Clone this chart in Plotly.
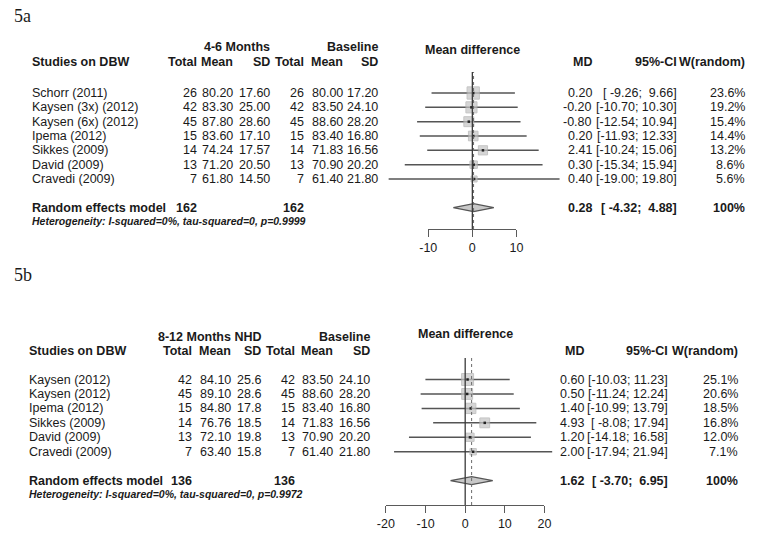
import math
import plotly.graph_objects as go

W, H = 760, 534
FONT = "Liberation Sans, Arial, Helvetica, sans-serif"
FS = 12.5
TXT = "#1a1a1a"

# ---------------- Data: 5a (4-6 months vs baseline) ----------------
a_studies = ["Schorr (2011)", "Kaysen (3x) (2012)", "Kaysen (6x) (2012)", "Ipema (2012)",
             "Sikkes (2009)", "David (2009)", "Cravedi (2009)"]
a_n_e = [26, 42, 45, 15, 14, 13, 7]
a_mean_e = [80.20, 83.30, 87.80, 83.60, 74.24, 71.20, 61.80]
a_sd_e = [17.60, 25.00, 28.60, 17.10, 17.57, 20.50, 14.50]
a_n_c = [26, 42, 45, 15, 14, 13, 7]
a_mean_c = [80.00, 83.50, 88.60, 83.40, 71.83, 70.90, 61.40]
a_sd_c = [17.20, 24.10, 28.20, 16.80, 16.56, 20.20, 21.80]
a_md = [0.20, -0.20, -0.80, 0.20, 2.41, 0.30, 0.40]
a_lo = [-9.26, -10.70, -12.54, -11.93, -10.24, -15.34, -19.00]
a_hi = [9.66, 10.30, 10.94, 12.33, 15.06, 15.94, 19.80]
a_w = [23.6, 19.2, 15.4, 14.4, 13.2, 8.6, 5.6]
a_pooled = [0.28, -4.32, 4.88]
a_totals = [162, 162]
a_het = "Heterogeneity: I-squared=0%, tau-squared=0, p=0.9999"
a_ticks = [-10, 0, 10]

# ---------------- Data: 5b (8-12 months NHD vs baseline) ----------------
b_studies = ["Kaysen (2012)", "Kaysen (2012)", "Ipema (2012)", "Sikkes (2009)",
             "David (2009)", "Cravedi (2009)"]
b_n_e = [42, 45, 15, 14, 13, 7]
b_mean_e = [84.10, 89.10, 84.80, 76.76, 72.10, 63.40]
b_sd_e = [25.6, 28.6, 17.8, 18.5, 19.8, 15.8]
b_n_c = [42, 45, 15, 14, 13, 7]
b_mean_c = [83.50, 88.60, 83.40, 71.83, 70.90, 61.40]
b_sd_c = [24.10, 28.20, 16.80, 16.56, 20.20, 21.80]
b_md = [0.60, 0.50, 1.40, 4.93, 1.20, 2.00]
b_lo = [-10.03, -11.24, -10.99, -8.08, -14.18, -17.94]
b_hi = [11.23, 12.24, 13.79, 17.94, 16.58, 21.94]
b_w = [25.1, 20.6, 18.5, 16.8, 12.0, 7.1]
b_pooled = [1.62, -3.70, 6.95]
b_totals = [136, 136]
b_het = "Heterogeneity: I-squared=0%, tau-squared=0, p=0.9972"
b_ticks = [-20, -10, 0, 10, 20]


def px_x(p):
    return p / W


def px_y(p):
    return 1 - p / H


fig = go.Figure()
annotations = []
shapes = []


def ann(text, x, y, xanchor="left", xref="paper", yref="paper", size=FS, family=FONT):
    annotations.append(dict(text=text, x=x, y=y, xref=xref, yref=yref, xanchor=xanchor,
                            yanchor="middle", showarrow=False, borderpad=0,
                            font=dict(family=family, size=size, color=TXT)))


def panel(k, label, head_exp, studies, n_e, mean_e, sd_e, sd_e_fmt, n_c, mean_c, sd_c,
          md, lo, hi, w, pooled, totals, het, ticks, L):
    xa = "x" if k == 1 else "x%d" % k
    ya = "y" if k == 1 else "y%d" % k
    xt = "x%d" % (k + 2)
    n = len(studies)
    rows = list(range(n))
    s_idx = n + 1
    # axis geometry
    x_lo = (L["data_px"][0] - L["zero_px"]) / L["ppu"]
    x_hi = (L["data_px"][1] - L["zero_px"]) / L["ppu"]
    y_top = (L["top"] - L["row0"]) / L["step"]
    y_bot = (L["axis_y"] - L["row0"]) / L["step"]
    lay = {}
    lay["xaxis" if k == 1 else "xaxis%d" % k] = dict(
        domain=[px_x(L["data_px"][0]), px_x(L["data_px"][1])], range=[x_lo, x_hi],
        visible=False, anchor=ya)
    lay["yaxis" if k == 1 else "yaxis%d" % k] = dict(
        domain=[px_y(L["axis_y"]), px_y(L["top"])], range=[y_bot, y_top],
        visible=False, anchor=xa)
    t0, t1 = ticks[0], ticks[-1]
    lay["xaxis%d" % (k + 2)] = dict(
        domain=[px_x(L["zero_px"] + L["ppu"] * t0), px_x(L["zero_px"] + L["ppu"] * t1)],
        range=[t0, t1], tickvals=ticks, ticktext=[str(t) for t in ticks],
        showline=True, linecolor="#5a5a5a", linewidth=1.2, ticks="outside", ticklen=7,
        tickwidth=1.2, tickcolor="#5a5a5a", showgrid=False, zeroline=False,
        anchor="free", position=px_y(L["axis_y"]),
        tickfont=dict(family=FONT, size=FS, color=TXT))
    fig.update_layout(**lay)
    fig.add_trace(go.Scatter(x=[t0, t1], y=[y_top, y_top], xaxis=xt, yaxis=ya, mode="markers",
                             marker=dict(opacity=0), hoverinfo="skip", showlegend=False))

    # reference lines
    shapes.append(dict(type="line", xref=xa, yref=ya + " domain", x0=0, x1=0, y0=0, y1=1,
                       line=dict(color="#3a3a3a", width=1.3)))
    shapes.append(dict(type="line", xref=xa, yref=ya + " domain", x0=pooled[0], x1=pooled[0],
                       y0=0, y1=1, line=dict(color="#6a6a6a", width=1, dash="dot")))

    # CI lines
    cx, cy = [], []
    for i in rows:
        cx += [lo[i], hi[i], None]
        cy += [i, i, None]
    fig.add_trace(go.Scatter(x=cx, y=cy, xaxis=xa, yaxis=ya, mode="lines",
                             line=dict(color="#555555", width=1.5), hoverinfo="skip",
                             showlegend=False))
    # weight squares
    wmax = max(w)
    sizes = [L["box"] * math.sqrt(v / wmax) for v in w]
    fig.add_trace(go.Scatter(x=md, y=rows, xaxis=xa, yaxis=ya, mode="markers",
                             marker=dict(symbol="square", size=sizes, color="#c4c4c4",
                                         line=dict(color="#adadad", width=1)),
                             cliponaxis=False, hoverinfo="skip", showlegend=False))
    fig.add_trace(go.Scatter(x=md, y=rows, xaxis=xa, yaxis=ya, mode="markers",
                             marker=dict(symbol="square", size=2.5, color="#222222"),
                             cliponaxis=False, hoverinfo="skip", showlegend=False))
    # diamond
    hh = L["dia"] / L["step"]
    fig.add_trace(go.Scatter(x=[pooled[1], pooled[0], pooled[2], pooled[0], pooled[1]],
                             y=[s_idx, s_idx - hh, s_idx, s_idx + hh, s_idx],
                             xaxis=xa, yaxis=ya, mode="lines", fill="toself",
                             fillcolor="#c8c8c8", line=dict(color="#555555", width=1.2),
                             hoverinfo="skip", showlegend=False))

    # ---- text ----
    ann(label, px_x(4), px_y(L["label_y"]), family="Liberation Serif, Times New Roman, serif",
        size=18)
    c = L["cols"]
    ann("<b>%s</b>" % head_exp, px_x(c[2]), px_y(L["h1"]), "right")
    ann("<b>Baseline</b>", px_x(c[5]), px_y(L["h1"]), "right")
    ann("<b>Mean difference</b>", 0, px_y(L["mdh"]), "center", xref=xa)
    ann("<b>Studies on DBW</b>", px_x(L["name_x"]), px_y(L["h2"]))
    for j, t in enumerate(["Total", "Mean", "SD", "Total", "Mean", "SD"]):
        ann("<b>%s</b>" % t, px_x(c[j]), px_y(L["h2"]), "right")
    ann("<b>MD</b>", px_x(L["md_r"]), px_y(L["h2"]), "right")
    ann("<b>95%-CI</b>", px_x(L["ci_r"]), px_y(L["h2"]), "right")
    ann("<b>W(random)</b>", px_x(L["w_r"]), px_y(L["h2"]), "right")

    lw = max(len("%.2f" % v) for v in lo)
    hw = max(len("%.2f" % v) for v in hi)
    for i in rows:
        ann(studies[i], px_x(L["name_x"]), i, yref=ya)
        vals = [str(n_e[i]), "%.2f" % mean_e[i], sd_e_fmt % sd_e[i],
                str(n_c[i]), "%.2f" % mean_c[i], "%.2f" % sd_c[i]]
        for j, v in enumerate(vals):
            ann(v, px_x(c[j]), i, "right", yref=ya)
        ann("%.2f" % md[i], px_x(L["md_r"]), i, "right", yref=ya)
        ci = "[%s; %s]" % (("%.2f" % lo[i]).rjust(lw), ("%.2f" % hi[i]).rjust(hw))
        ann(ci.replace(" ", "&nbsp;"), px_x(L["ci_r"]), i, "right", yref=ya)
        ann("%.1f%%" % w[i], px_x(L["w_r"]), i, "right", yref=ya)
    # summary
    ann("<b>Random effects model</b>", px_x(L["name_x"]), s_idx, yref=ya)
    ann("<b>%d</b>" % totals[0], px_x(c[0]), s_idx, "right", yref=ya)
    ann("<b>%d</b>" % totals[1], px_x(c[3]), s_idx, "right", yref=ya)
    ann("<b>%.2f</b>" % pooled[0], px_x(L["md_r"]), s_idx, "right", yref=ya)
    ci = "[%s; %s]" % (("%.2f" % pooled[1]).rjust(lw), ("%.2f" % pooled[2]).rjust(hw))
    ann("<b>%s</b>" % ci.replace(" ", "&nbsp;"), px_x(L["ci_r"]), s_idx, "right", yref=ya)
    ann("<b>100%</b>", px_x(L["w_r"]), s_idx, "right", yref=ya)
    ann("<b><i>%s</i></b>" % het, px_x(L["name_x"]), s_idx + L["het_off"], yref=ya, size=10.5)


LA = dict(label_y=16, h1=47, mdh=50, h2=62, row0=93, step=14.33, top=72, axis_y=229,
          zero_px=473.3, ppu=4.5, data_px=(380, 570), name_x=22,
          cols=[193, 230, 268, 302, 342, 378], md_r=597, ci_r=683, w_r=753,
          box=12.3, dia=4, het_off=0.9)
LB = dict(label_y=275, h1=337, mdh=334, h2=351, row0=379.5, step=14.45, top=358, axis_y=505,
          zero_px=466, ppu=4.05, data_px=(380, 560), name_x=19,
          cols=[188, 228, 258, 293, 332, 370], md_r=588, ci_r=674, w_r=746,
          box=12, dia=4, het_off=0.9)

panel(1, "5a", "4-6 Months", a_studies, a_n_e, a_mean_e, a_sd_e, "%.2f", a_n_c, a_mean_c,
      a_sd_c, a_md, a_lo, a_hi, a_w, a_pooled, a_totals, a_het, a_ticks, LA)
panel(2, "5b", "8-12 Months NHD", b_studies, b_n_e, b_mean_e, b_sd_e, "%.1f", b_n_c,
      b_mean_c, b_sd_c, b_md, b_lo, b_hi, b_w, b_pooled, b_totals, b_het, b_ticks, LB)

fig.update_layout(width=W, height=H, margin=dict(l=0, r=0, t=0, b=0),
                  paper_bgcolor="white", plot_bgcolor="rgba(0,0,0,0)", showlegend=False,
                  annotations=annotations, shapes=shapes,
                  font=dict(family=FONT, size=FS, color=TXT))

fig.write_html("out.html", config={"displayModeBar": False, "staticPlot": True},
               post_script="document.body.style.margin='0';document.body.style.padding='0';")
